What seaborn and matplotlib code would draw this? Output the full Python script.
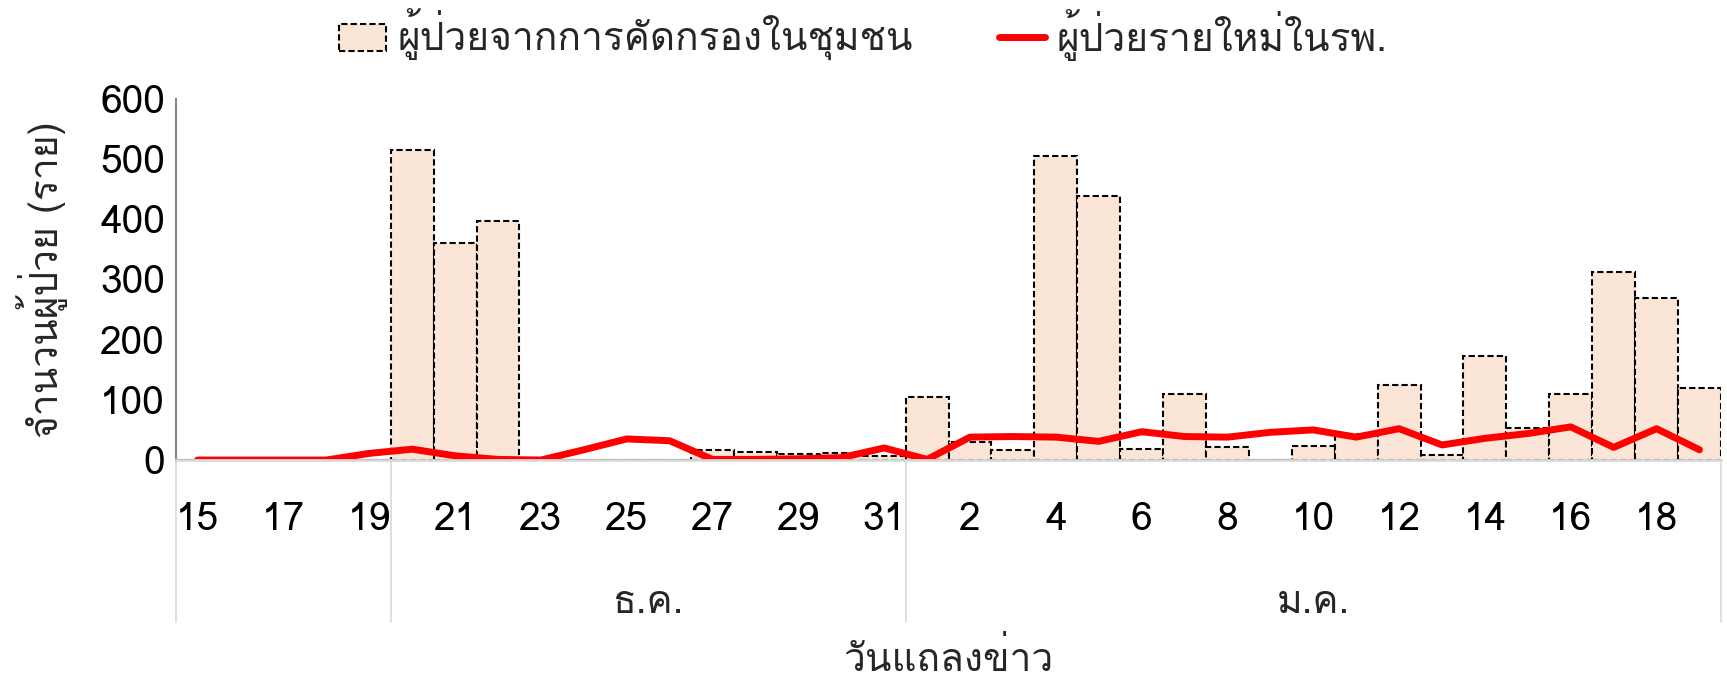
import numpy as np
import pandas as pd
import seaborn as sns
import matplotlib
matplotlib.use("Agg")
import matplotlib.pyplot as plt
import matplotlib.transforms as mtransforms
from matplotlib import font_manager
from matplotlib.ft2font import FT2Font

# day of month for each press-briefing date (15 Dec .. 19 Jan)
days = [15, 16, 17, 18, 19, 20, 21, 22, 23, 24, 25, 26, 27, 28, 29, 30, 31,
        1, 2, 3, 4, 5, 6, 7, 8, 9, 10, 11, 12, 13, 14, 15, 16, 17, 18, 19]
month_labels = ["", "ธ.ค.", "ม.ค."]
month_sizes = [5, 12, 19]

community = [0, 0, 0, 0, 0,
             515, 360, 397, 0, 0, 0, 0, 17, 14, 10, 12, 7,
             104, 30, 17, 505, 439, 19, 109, 21, 0, 23, 43, 125, 9, 172, 53, 110, 312, 269, 120]
hospital = [0, 0, 0, 0, 11,
            18, 7, 1, 0, 17, 35, 32, 1, 1, 2, 4, 20,
            1, 38, 39, 38, 31, 47, 39, 38, 46, 50, 38, 52, 25, 36, 44, 55, 21, 52, 17]

bar_label = "ผู้ป่วยจากการคัดกรองในชุมชน"
line_label = "ผู้ป่วยรายใหม่ในรพ."


def thai_font():
    # first installed family that has Thai glyphs
    for f in font_manager.fontManager.ttflist:
        try:
            if 0x0E1C in FT2Font(f.fname).get_charmap():
                return f.name
        except Exception:
            pass
    return "DejaVu Sans"


sns.set_theme(style="white")
plt.rcParams["font.family"] = [thai_font(), "DejaVu Sans"]

df = pd.DataFrame({
    "pos": range(len(days)),
    "date": [f"{i}-{d}" for i, d in enumerate(days)],
    "community": community,
    "hospital": hospital,
})

fig = plt.figure(figsize=(17.27, 6.76), dpi=100)
ax = fig.add_axes([0.102, 0.3195, 0.8945, 0.5345])

sns.barplot(data=df, x="date", y="community", color="#FBE5D6", saturation=1,
            width=1, edgecolor="black", linewidth=1.5, linestyle=(0, (3, 1.5)),
            label=bar_label, ax=ax)
sns.lineplot(data=df, x="pos", y="hospital", color="#FF0000", linewidth=5,
             label=line_label, ax=ax)

ax.set_xlim(-0.5, len(days) - 0.5)
ax.set_ylim(0, 600)
ax.set_yticks(range(0, 601, 100))
ax.set_xticks(df["pos"][::2])
ax.set_xticklabels(days[::2])
ax.tick_params(axis="both", length=0, labelsize=28, labelcolor="black")
ax.tick_params(axis="x", pad=30)
ax.tick_params(axis="y", pad=8)

for s in ["top", "right"]:
    ax.spines[s].set_visible(False)
ax.spines["left"].set_color("#868686")
ax.spines["left"].set_linewidth(1.5)
ax.spines["bottom"].set_color("#D9D9D9")
ax.spines["bottom"].set_linewidth(2)

# month grouping under the day labels
trans = mtransforms.blended_transform_factory(ax.transData, ax.transAxes)
edges = np.concatenate([[0], np.cumsum(month_sizes)]) - 0.5
for e in edges:
    ax.plot([e, e], [0, -0.449], transform=trans, color="#D9D9D9", lw=1.2, clip_on=False)
for lab, a, b in zip(month_labels, edges[:-1], edges[1:]):
    ax.text((a + b) / 2, -0.397, lab, transform=trans, ha="center", va="center", fontsize=28)

ax.set_xlabel("วันแถลงข่าว", fontsize=28, va="center")
ax.xaxis.set_label_coords(0.5, -0.551)
ax.set_ylabel("จำนวนผู้ป่วย (ราย)", fontsize=28, va="center")
ax.yaxis.set_label_coords(-0.087, 0.5)

handles, labels = ax.get_legend_handles_labels()
ax.get_legend().remove()
order = [labels.index(bar_label), labels.index(line_label)]
fig.legend([handles[i] for i in order], [labels[i] for i in order],
           loc="center", bbox_to_anchor=(0.5, 0.948), ncol=2,
           frameon=False, fontsize=28, columnspacing=2.2, handlelength=1.2,
           handletextpad=0.3)

fig.savefig("out.png", dpi=100)
